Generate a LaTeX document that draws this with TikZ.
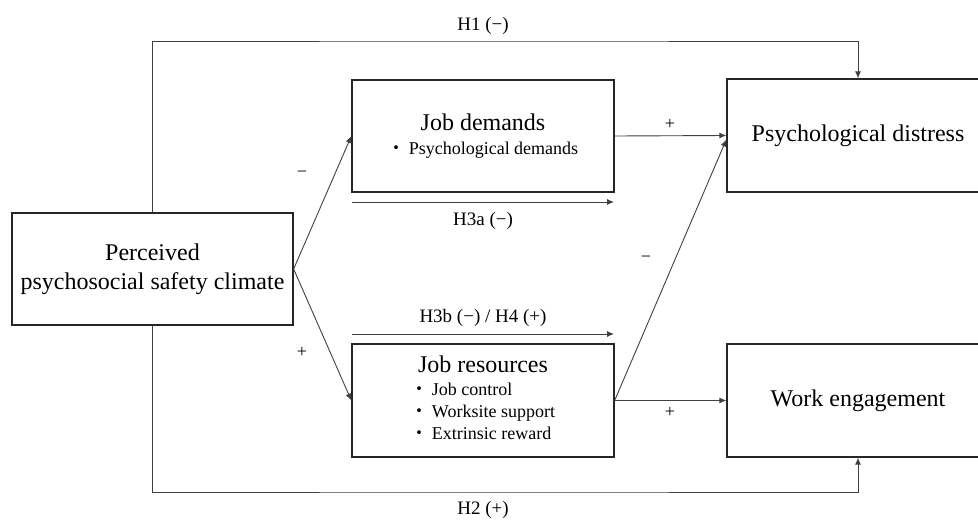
\documentclass[tikz,border=0pt]{standalone}
\usepackage{fontspec}
\setmainfont{Liberation Serif}
\newfontfamily\cjk{Noto Sans CJK JP}
\usetikzlibrary{arrows.meta}
\newcommand{\bul}{{\cjk ・}\hspace{3pt}}
\newcommand{\bigtxt}{\fontsize{24}{29}\selectfont}
\newcommand{\smltxt}{\fontsize{18}{22}\selectfont}
\tikzset{
    box/.style={draw=black!85, line width=1.3pt, inner sep=0pt, align=center,
    	font=\bigtxt},
    lbl/.style={font=\fontsize{19}{22}\selectfont, inner sep=1pt},
    sgn/.style={font=\smltxt, inner sep=1pt},
    arr/.style={draw=black!75, line width=0.9pt, -{Latex[length=7pt,width=6pt]}}
}

\begin{document}
\begin{tikzpicture}[x=1pt, y=-1pt]
	\clip (0,0) rectangle (978,520);
	\node (climate) [box, minimum width=281pt, minimum height=112pt] at (152.5, 269) {Perceived\\psychosocial safety climate};
	\node (demands) [box, minimum width=262pt, minimum height=112pt] at (483, 136) {Job demands\\[-5pt] {\smltxt\bul Psychological demands}};
	\node (resources) [box, minimum width=262pt, minimum height=113pt] at (483, 400.5) {Job resources\\[-6pt] {\smltxt\begin{tabular}[t]{@{}l@{}}\bul Job control\\ \bul Worksite support\\ \bul Extrinsic reward\end{tabular}}};
	\node (distress) [box, minimum width=262pt, minimum height=113pt] at (858, 135.5) {Psychological distress};
	\node (engage) [box, minimum width=262pt, minimum height=113pt] at (858, 400.5) {Work engagement};
	
	\coordinate (h1) at (483, 41);
	\coordinate (h2) at (483, 492);
	\coordinate (h3a-s) at (352, 202); \coordinate (h3a-e) at (614, 202);
	\coordinate (h3b-s) at (352, 334); \coordinate (h3b-e) at (614, 334);
	
	\node (h1-lbl) [lbl] at (483, 26) {H1 (−)};
	\node (h2-lbl) [lbl] at (483, 510) {H2 (+)};
	\node (h3a-lbl) [lbl] at (483, 221) {H3a (−)};
	\node (h3b-lbl) [lbl] at (483, 318) {H3b (−) / H4 (+)};
	\node (s1) [sgn] at (302, 174) {−};
	\node (s2) [sgn] at (302, 352) {+};
	\node (s3) [sgn] at (670, 124) {+};
	\node (s4) [sgn] at (646, 259) {−};
	\node (s5) [sgn] at (670, 412) {+};
	
	\draw [arr] (climate.east) -- (demands.west);
	\draw [arr] (climate.east) -- (resources.west);
	\draw [arr] (demands.east) -- (distress.west);
	\draw [arr] (resources.east) -- ([yshift=-4pt]distress.west);
	\draw [arr] (resources.east) -- (engage.west);
	\draw [arr] (h3a-s) -- (h3a-e);
	\draw [arr] (h3b-s) -- (h3b-e);
	\draw [arr] (climate.north) |- (h1) -| (distress.north);
	\draw [arr] (climate.south) |- (h2) -| (engage.south);
\end{tikzpicture}
\end{document}
